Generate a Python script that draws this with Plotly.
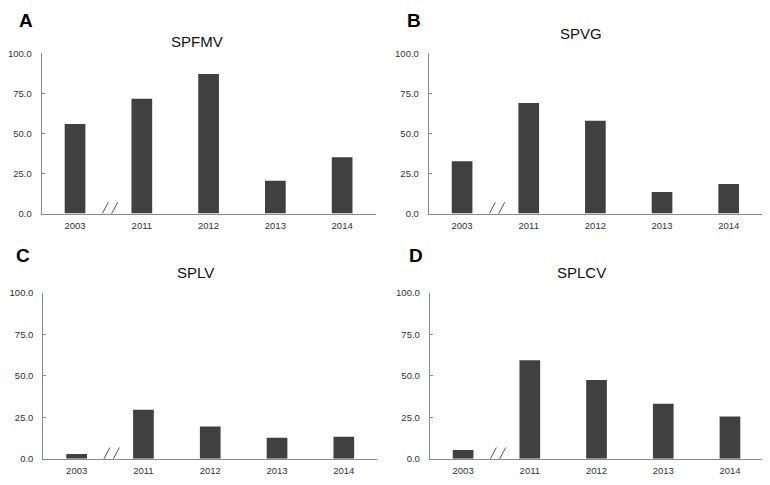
import plotly.graph_objects as go

years = ["2003", "2011", "2012", "2013", "2014"]
spfmv = [55.9, 71.7, 87.2, 20.5, 35.1]
spvg = [32.7, 69.1, 57.9, 13.4, 18.5]
splv = [2.9, 29.6, 19.4, 12.7, 13.3]
splcv = [5.3, 59.4, 47.5, 33.1, 25.5]
titles = ["SPFMV", "SPVG", "SPLV", "SPLCV"]
letters = ["A", "B", "C", "D"]
y_ticks = [0, 25, 50, 75, 100]
y_ticktext = ["0.0", "25.0", "50.0", "75.0", "100.0"]

# page body has an 8px default margin; figure fills the rest of the window
OFF = 8
W, H = 770 - OFF, 485 - OFF
series = [spfmv, spvg, splv, splcv]
# window-pixel geometry of each panel: (left, right, top, bottom)
panels = [
    (40.7, 375.0, 48.3, 212.3),
    (428.3, 762.0, 48.3, 212.3),
    (42.3, 376.7, 293.3, 463.3),
    (429.3, 763.3, 293.3, 463.3),
]
title_pos = [(196, 36), (581, 27.5), (194.3, 272.7), (581, 272.3)]
letter_pos = [(25, 15), (413.3, 15), (21.7, 255), (415.7, 255)]


def px(x):
    return (x - OFF) / W


def py(y):
    return 1 - (y - OFF) / H


fig = go.Figure()
font_fam = "Liberation Sans, Arial, sans-serif"
axis_col = "#8a8a8a"

for i, vals in enumerate(series):
    n = "" if i == 0 else str(i + 1)
    fig.add_trace(go.Bar(
        x=years, y=vals, xaxis="x" + n, yaxis="y" + n,
        marker=dict(color="#404040", line=dict(width=0)),
        width=0.31, showlegend=False,
    ))
    l, r, t, b = panels[i]
    fig.layout["xaxis" + n] = dict(
        domain=[px(l), min(px(r), 1)], anchor="y" + n, type="category",
        showgrid=False, zeroline=False, showline=True, linecolor=axis_col,
        linewidth=1, ticks="", ticklabelstandoff=3,
        tickfont=dict(family=font_fam, size=9.5, color="#333333"),
        range=[-0.5, 4.5], fixedrange=True,
    )
    fig.layout["yaxis" + n] = dict(
        domain=[py(b), py(t)], anchor="x" + n,
        range=[0, 100], showgrid=False, zeroline=False, showline=True,
        linecolor=axis_col, linewidth=1, ticks="inside", ticklen=3,
        tickcolor=axis_col, tickvals=y_ticks, ticktext=y_ticktext,
        ticklabelstandoff=7,
        tickfont=dict(family=font_fam, size=9.5, color="#333333"),
        fixedrange=True,
    )
    # axis break marks "//" between 2003 and 2011
    for dx0, dx1 in [(-10.7, -0.1), (-1.4, 9.3)]:
        fig.add_shape(
            type="line", xref="x" + n, yref="y" + n,
            xsizemode="pixel", xanchor=0.5, x0=dx0, x1=dx1,
            ysizemode="pixel", yanchor=0, y0=-8.7, y1=11.3,
            line=dict(color="#555555", width=1),
        )
    tx, ty = title_pos[i]
    fig.add_annotation(
        text=titles[i], xref="paper", yref="paper",
        x=px(tx), y=py(ty), xanchor="center", yanchor="middle",
        showarrow=False, font=dict(family=font_fam, size=15, color="#111111"),
    )
    lx, ly = letter_pos[i]
    fig.add_annotation(
        text="<b>" + letters[i] + "</b>", xref="paper", yref="paper",
        x=px(lx), y=py(ly), xanchor="center", yanchor="middle",
        showarrow=False, font=dict(family=font_fam, size=19, color="#000000"),
    )

fig.update_layout(
    width=W, height=H, margin=dict(l=0, r=0, t=0, b=0),
    plot_bgcolor="white", paper_bgcolor="white", bargap=0.69,
)
fig.write_html("out.html", config={"displayModeBar": False})
